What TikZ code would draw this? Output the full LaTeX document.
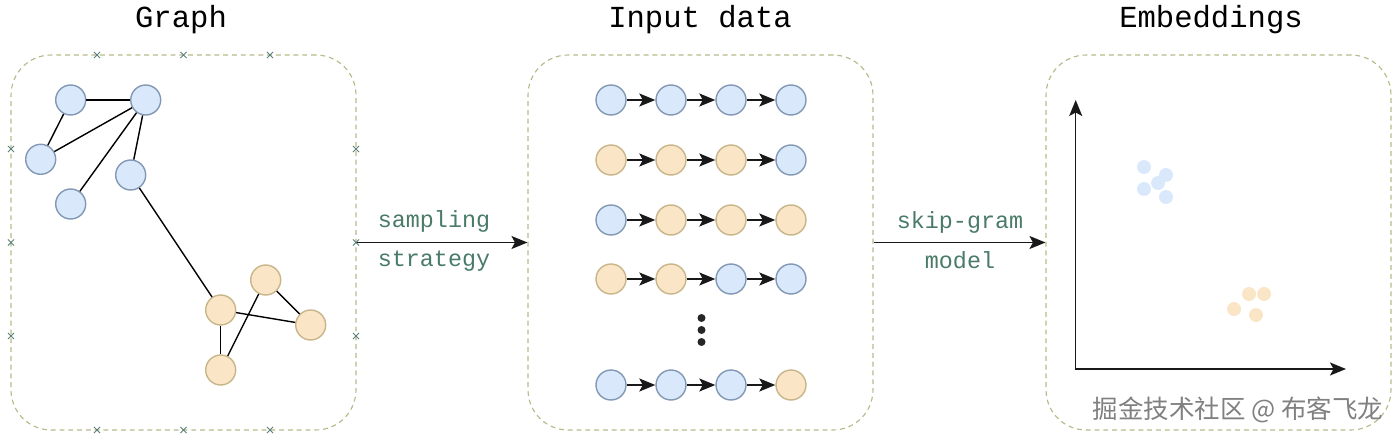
\documentclass[tikz,border=0pt]{standalone}
\usepackage{fontspec}
\setmonofont{Liberation Mono}
\newfontfamily\cjk{Noto Sans CJK SC}
\usetikzlibrary{arrows.meta,shapes.misc}
\definecolor{blufill}{RGB}{218,232,252}
\definecolor{bluline}{RGB}{130,152,180}
\definecolor{orgfill}{RGB}{250,229,199}
\definecolor{orgline}{RGB}{200,182,138}
\definecolor{panline}{RGB}{185,185,140}
\definecolor{lblgreen}{RGB}{74,122,104}
\definecolor{xgreen}{RGB}{90,130,120}
\tikzset{
  bnode/.style={circle,draw=bluline,fill=blufill,line width=0.8pt,minimum size=0.6cm,inner sep=0pt},
  onode/.style={circle,draw=orgline,fill=orgfill,line width=0.8pt,minimum size=0.6cm,inner sep=0pt},
  panel/.style={draw=panline,dash pattern=on 2.8pt off 2.2pt,line width=0.65pt,rounded corners=0.8cm,
    minimum width=6.9cm,minimum height=7.5cm,inner sep=0pt},
  title/.style={font=\ttfamily\fontsize{17.4}{20}\selectfont},
  lbl/.style={text=lblgreen,font=\ttfamily\fontsize{13.3}{16}\selectfont},
  xmark/.style={cross out,draw=xgreen,minimum size=3pt,inner sep=0pt,line width=0.45pt},
  bdot/.style={circle,fill=blufill,minimum size=0.28cm,inner sep=0pt},
  odot/.style={circle,fill=orgfill,minimum size=0.28cm,inner sep=0pt},
  vdot/.style={circle,fill=black!85,minimum size=0.16cm,inner sep=0pt},
  arr/.style={-{Stealth[length=0.32cm,width=0.26cm,inset=0.07cm]},line width=0.85pt,black!90},
  wmark/.style={text=black!50,font=\cjk\fontsize{14.5}{17}\selectfont}
}
\begin{document}
\begin{tikzpicture}[x=0.02cm,y=-0.02cm]
      \useasboundingbox (0,0) rectangle (1396,439);
      % panels and titles
      \node[panel] (graph) at (183.5,242.5) {};
      \node[panel] (input) at (700.5,242.5) {};
      \node[panel] (embed) at (1218.5,242.5) {};
      \node[title] (tg) at (181,20) {Graph};
      \node[title] (ti) at (700,20) {Input data};
      \node[title] (te) at (1211,20) {Embeddings};
      % connection marks on the graph panel
      \node[xmark] (x1) at (97,55) {};
      \node[xmark] (x2) at (183.5,55) {};
      \node[xmark] (x3) at (270,55) {};
      \node[xmark] (x4) at (97,430) {};
      \node[xmark] (x5) at (183.5,430) {};
      \node[xmark] (x6) at (270,430) {};
      \node[xmark] (x7) at (11,149) {};
      \node[xmark] (x8) at (11,242.5) {};
      \node[xmark] (x9) at (11,336) {};
      \node[xmark] (x10) at (356,149) {};
      \node[xmark] (x11) at (356,242.5) {};
      \node[xmark] (x12) at (356,336) {};
      % graph
      \draw
        (70.7,100) node[bnode] (a){}
        (145.7,100) node[bnode] (b){}
        (40.7,159.3) node[bnode] (c){}
        (130.7,175) node[bnode] (d){}
        (70.7,204) node[bnode] (e){}
        (265.7,280) node[onode] (f){}
        (220.7,310) node[onode] (g){}
        (310.7,325) node[onode] (h){}
        (220.7,370) node[onode] (i){};
      \begin{scope}[-,line width=0.8pt]
        \draw (a) to (b);
        \draw (a) to (c);
        \draw (c) to (b);
        \draw (e) to (b);
        \draw (d) to (b);
        \draw (d) to (g);
        \draw (g) to (h);
        \draw (f) to (h);
        \draw (g) to (i);
        \draw (i) to (f);
      \end{scope}
      % walks
      \draw
        (611,100) node[bnode] (r11){}
        (671,100) node[bnode] (r12){}
        (731,100) node[bnode] (r13){}
        (791,100) node[bnode] (r14){}
        (611,160) node[onode] (r21){}
        (671,160) node[onode] (r22){}
        (731,160) node[onode] (r23){}
        (791,160) node[bnode] (r24){}
        (611,220) node[bnode] (r31){}
        (671,220) node[onode] (r32){}
        (731,220) node[onode] (r33){}
        (791,220) node[onode] (r34){}
        (611,279) node[onode] (r41){}
        (671,279) node[onode] (r42){}
        (731,279) node[bnode] (r43){}
        (791,279) node[bnode] (r44){}
        (611,385) node[bnode] (r51){}
        (671,385) node[bnode] (r52){}
        (731,385) node[bnode] (r53){}
        (791,385) node[onode] (r54){};
      \node[vdot] (v1) at (701.5,318) {};
      \node[vdot] (v2) at (701.5,330) {};
      \node[vdot] (v3) at (701.5,342) {};
      \begin{scope}[arr]
        \draw (r11) to (r12);
        \draw (r12) to (r13);
        \draw (r13) to (r14);
        \draw (r21) to (r22);
        \draw (r22) to (r23);
        \draw (r23) to (r24);
        \draw (r31) to (r32);
        \draw (r32) to (r33);
        \draw (r33) to (r34);
        \draw (r41) to (r42);
        \draw (r42) to (r43);
        \draw (r43) to (r44);
        \draw (r51) to (r52);
        \draw (r52) to (r53);
        \draw (r53) to (r54);
      \end{scope}
      % steps between panels
      \draw[arr] (graph.east) -- (input.west);
      \node[lbl] (ls1) at (434,221) {sampling};
      \node[lbl] (ls2) at (434,261) {strategy};
      \draw[arr] (input.east) -- (embed.west);
      \node[lbl] (lk1) at (960,222) {skip-gram};
      \node[lbl] (lk2) at (960,260) {model};
      % embedding space
      \coordinate (ytop) at (1075.7,100);
      \coordinate (orig) at (1075.7,369);
      \coordinate (xend) at (1346,369);
      \draw[arr,{Stealth[length=0.32cm,width=0.26cm,inset=0.07cm]}-{Stealth[length=0.32cm,width=0.26cm,inset=0.07cm]}]
        (ytop) -- (orig) -- (xend);
      \node[bdot] (e1) at (1144,167) {};
      \node[bdot] (e2) at (1166,175) {};
      \node[bdot] (e3) at (1158,183) {};
      \node[bdot] (e4) at (1144,189) {};
      \node[bdot] (e5) at (1166,197) {};
      \node[odot] (e6) at (1249,294) {};
      \node[odot] (e7) at (1264,294) {};
      \node[odot] (e8) at (1234,309) {};
      \node[odot] (e9) at (1256,315) {};
      \node[wmark] (wm) at (1238,410) {掘金技术社区 @ 布客飞龙};
    \end{tikzpicture}
\end{document}
